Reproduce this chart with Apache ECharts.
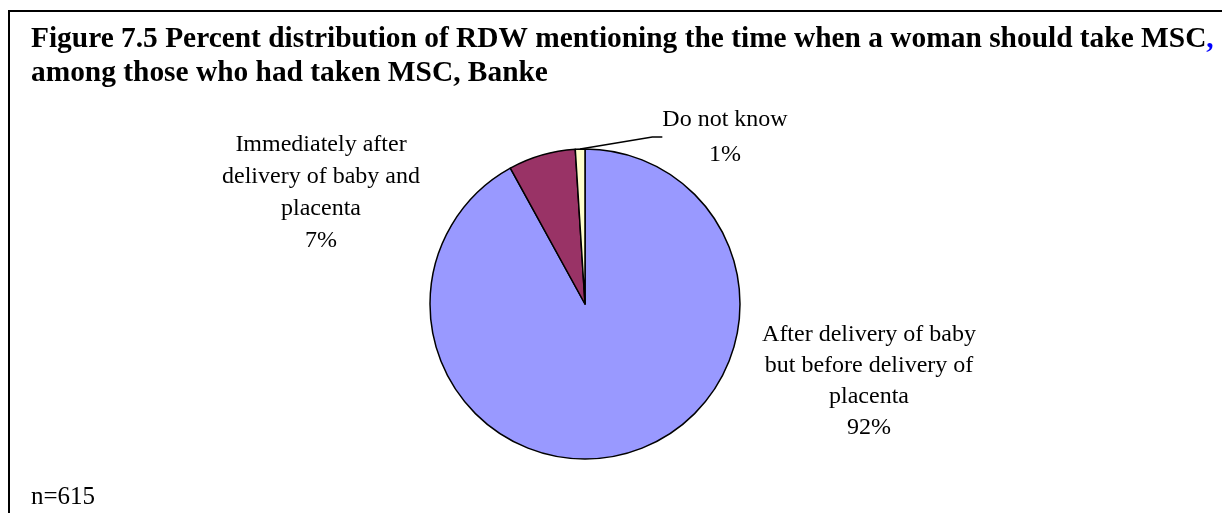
<!DOCTYPE html>
<html>
<head>
<meta charset="utf-8">
<script src="https://cdn.jsdelivr.net/npm/echarts@6/dist/echarts.min.js"></script>
<style>html,body{margin:0;padding:0;background:#fff}#c{width:1222px;height:513px}</style>
</head>
<body>
<div id="c"></div>
<script>
const categories = [
  "After delivery of baby\nbut before delivery of\nplacenta",
  "Immediately after\ndelivery of baby and\nplacenta",
  "Do not know"
];
const values = [92, 7, 1];
const colors = ["#9999FF", "#993366", "#FFFFCC"];
const titleLine1 = "Figure 7.5 Percent distribution of RDW mentioning the time when a woman should take MSC";
const titleLine2 = "among those who had taken MSC, Banke";
const noteText = "n=615";

const chart = echarts.init(document.getElementById('c'), null, {renderer: 'canvas'});
const FONT = '"Liberation Serif", "Times New Roman", serif';
const labelPos = [[869, 381], [321, 193], [725, 137]];
const labelLH = [31, 32, 35];

const option = {
  animation: false,
  backgroundColor: '#fff',
  title: {
    left: 31, top: 22, padding: 0,
    text: '{t|' + titleLine1 + '}{c|,}\n{t|' + titleLine2 + '}',
    textStyle: {
      rich: {
        t: {fontFamily: FONT, fontWeight: 'bold', fontSize: 29.4, color: '#000', lineHeight: 34},
        c: {fontFamily: FONT, fontWeight: 'bold', fontSize: 29.4, color: '#0000FF', lineHeight: 34}
      }
    }
  },
  graphic: [
    {type: 'rect', shape: {x: 9, y: 11, width: 1300, height: 600}, style: {fill: 'none', stroke: '#000', lineWidth: 2}, silent: true},
    {type: 'text', left: 31, top: 485, style: {text: noteText, font: '25px ' + FONT, fill: '#000'}}
  ],
  series: [{
    type: 'pie',
    center: [585, 304],
    radius: 155,
    startAngle: 90,
    clockwise: true,
    itemStyle: {borderColor: '#000', borderWidth: 1.5},
    label: {
      show: true,
      position: 'outside',
      fontFamily: FONT,
      fontSize: 24,
      color: '#000',
      align: 'center',
      formatter: p => p.name + '\n' + p.value + '%'
    },
    labelLine: {show: false, lineStyle: {color: '#000', width: 1.5}},
    labelLayout: function (params) {
      const p = labelPos[params.dataIndex];
      return {x: p[0], y: p[1], align: 'center', verticalAlign: 'middle'};
    },
    data: categories.map((n, i) => ({
      name: n,
      value: values[i],
      itemStyle: {color: colors[i]},
      label: {lineHeight: labelLH[i]},
      labelLine: {show: i === 2, length: 10, length2: 10}
    }))
  }]
};
chart.setOption(option);
</script>
</body>
</html>
